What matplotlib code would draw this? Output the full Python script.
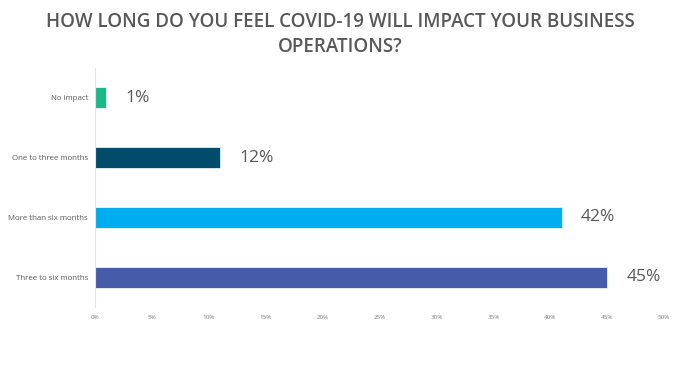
import matplotlib
matplotlib.use("Agg")
import matplotlib.pyplot as plt
from matplotlib.ticker import FuncFormatter

# data
categories = ["No impact", "One to three months", "More than six months", "Three to six months"]
values = [1.0, 11.0, 41.0, 45.0]
value_labels = ["1%", "12%", "42%", "45%"]
bar_colors = ["#1BB98A", "#014B6B", "#00ADEE", "#465CA8"]
x_ticks = [0, 5, 10, 15, 20, 25, 30, 35, 40, 45, 50]

TEXT = "#595959"
plt.rcParams['font.family'] = ['Open Sans', 'DejaVu Sans']

fig = plt.figure(figsize=(6.8, 3.86), dpi=100)
ax = fig.add_axes([0.1397, 0.2047, 0.8368, 0.6191])

y = list(range(len(categories)))
ax.barh(y, values, height=0.35, color=bar_colors, edgecolor="white", linewidth=0.5)
for yi, v, lab in zip(y, values, value_labels):
    ax.annotate(lab, (v, yi), xytext=(14, 0), textcoords="offset points",
                va="center", ha="left", fontsize=12.5, color=TEXT)

ax.set_xlim(0, 50)
ax.set_ylim(3.5, -0.5)
ax.set_yticks(y)
ax.set_yticklabels(categories, fontsize=5.7, color=TEXT)
ax.set_xticks(x_ticks)
ax.xaxis.set_major_formatter(FuncFormatter(lambda v, p: f"{v:.0f}%"))
ax.tick_params(axis="x", labelsize=4.5, colors="#808080", length=0, pad=6)
ax.tick_params(axis="y", length=0, pad=5)
for s in ["top", "right", "bottom"]:
    ax.spines[s].set_visible(False)
ax.spines["left"].set_color("#E3E3E3")
ax.spines["left"].set_linewidth(0.8)

fig.text(0.5, 0.91, "HOW LONG DO YOU FEEL COVID-19 WILL IMPACT YOUR BUSINESS\nOPERATIONS?",
         ha="center", va="center", fontsize=13.5, color=TEXT, linespacing=1.3,
         fontweight="semibold")

fig.savefig("out.png", dpi=100, facecolor="white")
